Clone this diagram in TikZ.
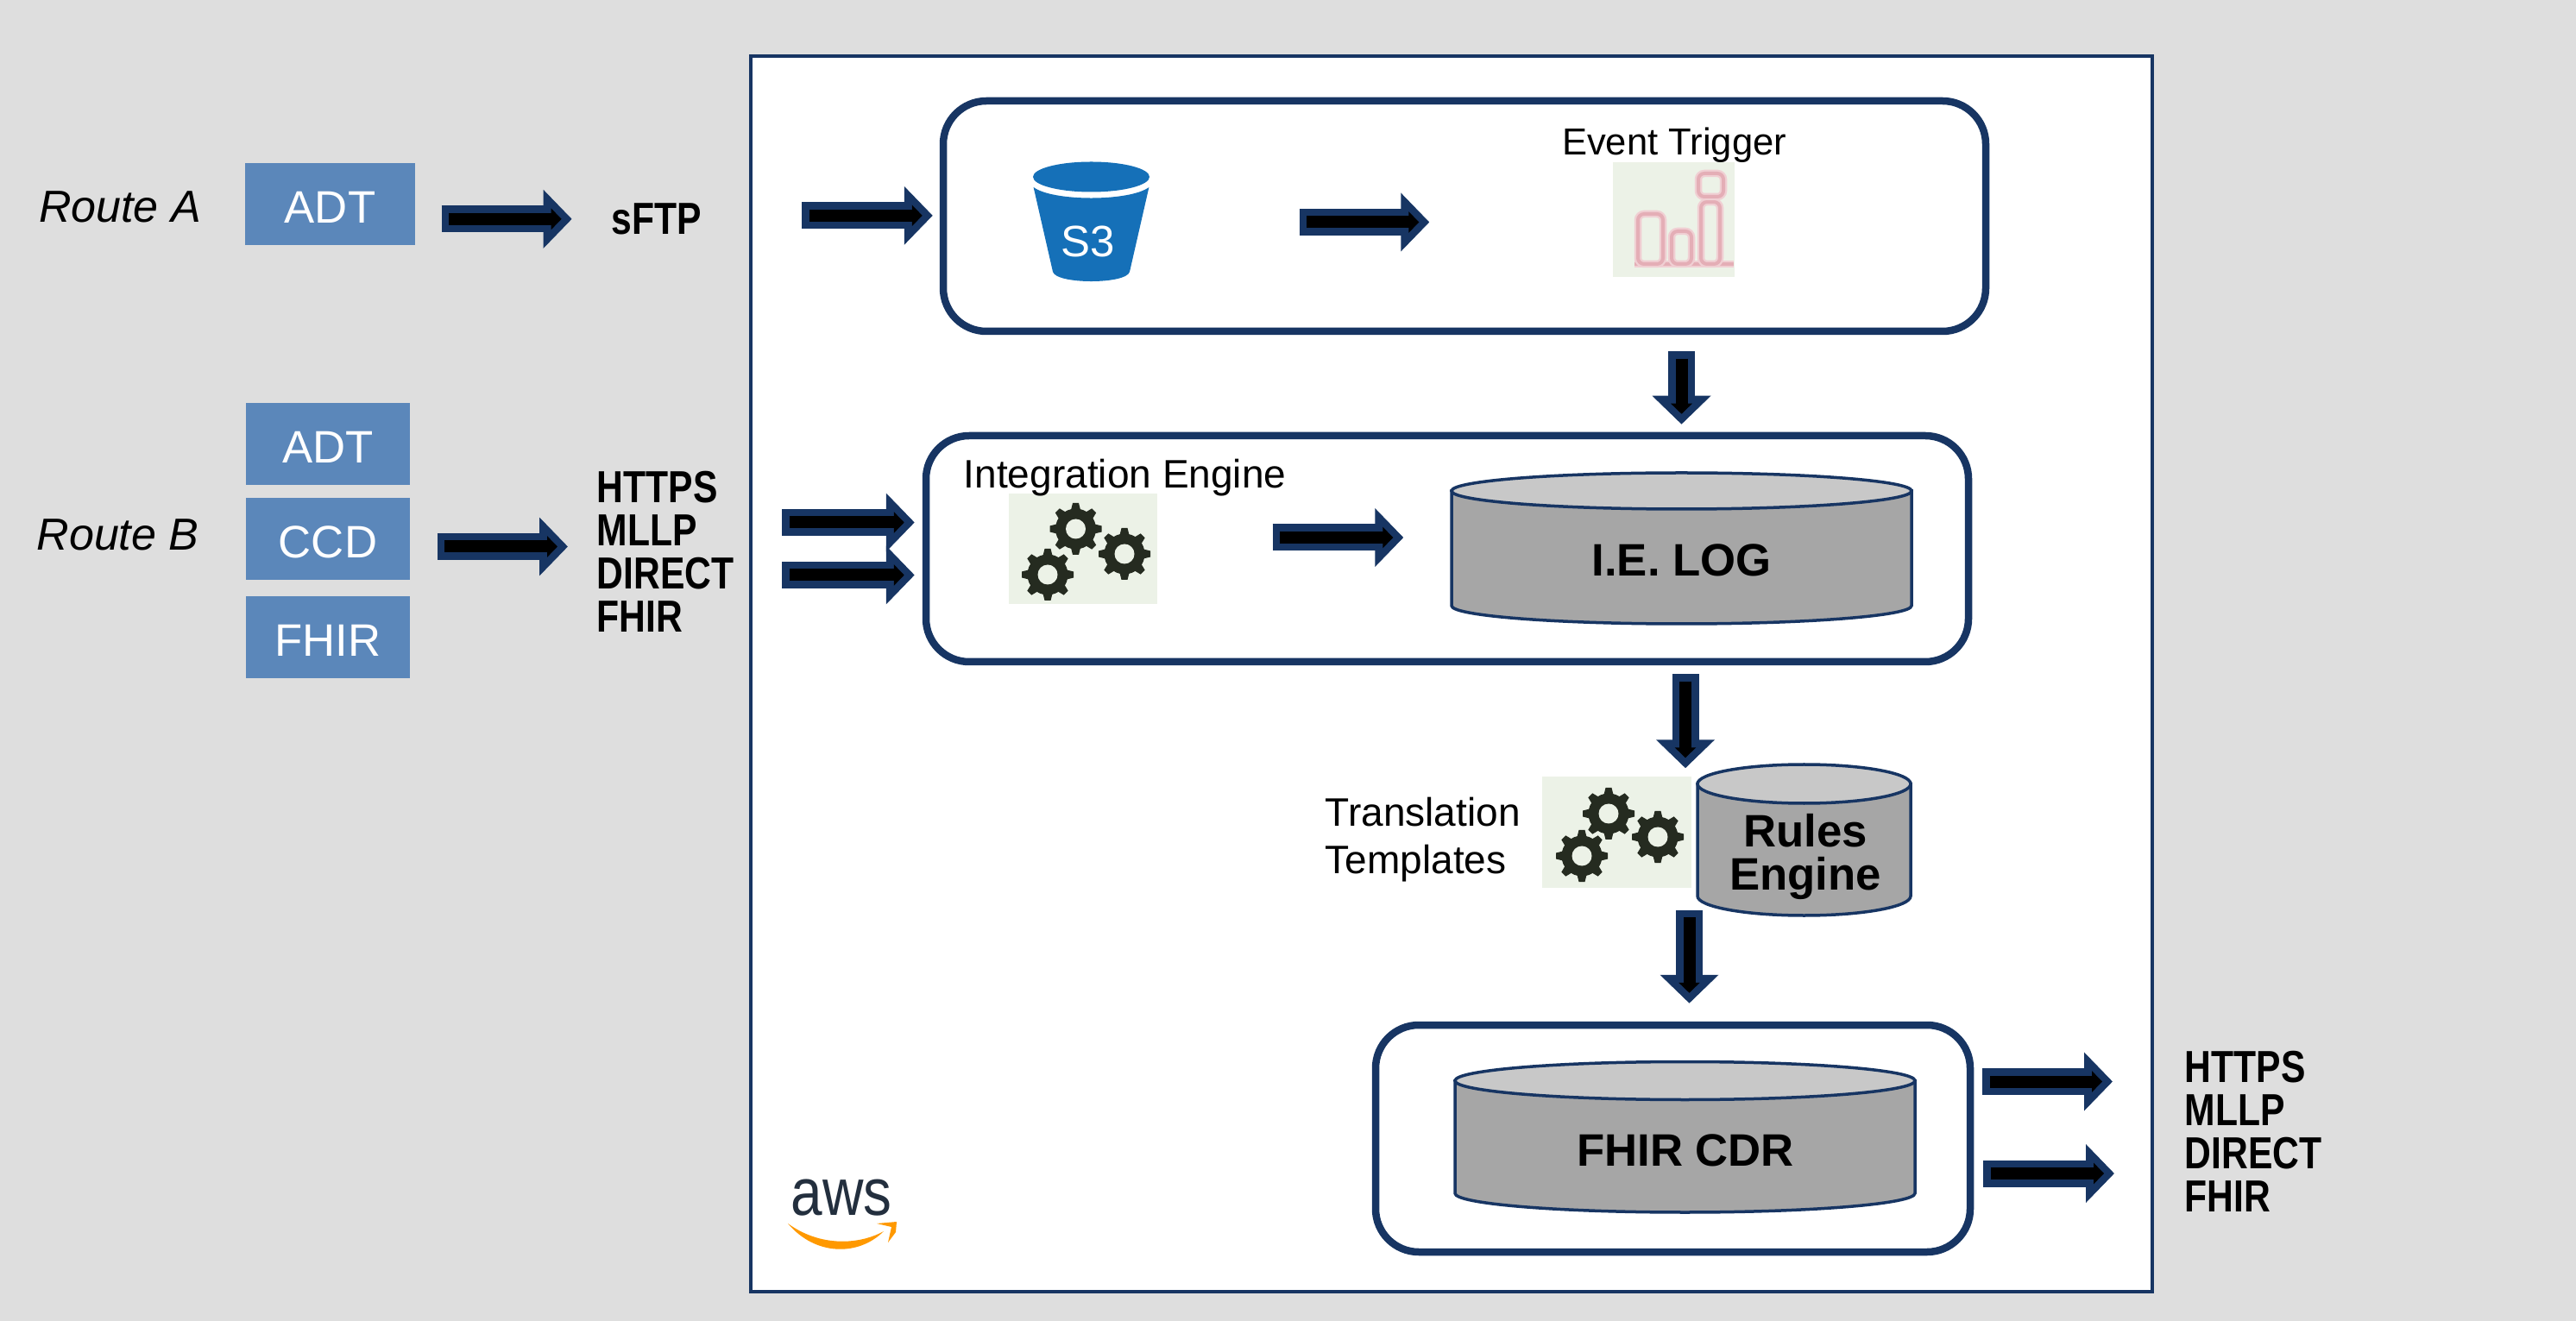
\documentclass[tikz,border=0pt]{standalone}
\usepackage{fontspec}
\usepackage{xcolor}
\usepackage{tikz}
\usetikzlibrary{calc,arrows.meta}
\setmainfont{Liberation Sans}
\newfontfamily\protofont[FakeStretch=0.82]{Liberation Sans}
\newfontfamily\awsfont[FakeStretch=0.85]{Liberation Sans}
\definecolor{bg}{HTML}{DEDEDE}
\definecolor{navy}{HTML}{173563}
\definecolor{tag}{HTML}{5B87BA}
\definecolor{iconbg}{HTML}{ECF2E7}
\definecolor{cogc}{HTML}{252B20}
\definecolor{pink}{HTML}{E4AEB6}
\definecolor{pinksoft}{HTML}{F0CFD3}
\definecolor{bucket}{HTML}{1570B8}
\definecolor{drumtop}{HTML}{C8C8C8}
\definecolor{drumbody}{HTML}{A6A6A6}
\definecolor{awsink}{HTML}{232F3E}
\definecolor{awsorange}{HTML}{FF9900}
\tikzset{
  frame/.style={draw=navy, fill=white, line width=.04cm, inner sep=0pt},
  stage/.style={draw=navy, fill=white, line width=.085cm, rounded corners=.5cm, inner sep=0pt},
  tagbox/.style={fill=tag, text=white, inner sep=0pt, text height=.44cm, text depth=0pt,
    font=\fontsize{15}{16}\selectfont},
  icon/.style={fill=iconbg, inner sep=0pt},
  drumlab/.style={inner sep=0pt, align=center, font=\bfseries\fontsize{15}{14}\selectfont},
  lab/.style={inner sep=0pt, font=\fontsize{13.1}{15.7}\selectfont},
  route/.style={inner sep=0pt, font=\itshape\fontsize{14.8}{16}\selectfont},
  proto/.style={inner sep=0pt, align=left, font=\protofont\bfseries\fontsize{14.8}{14.2}\selectfont},
  bars/.style={rounded corners=.07cm, draw=pinksoft, line width=.085cm,
    postaction={draw=pink, line width=.04cm}},
  flow/.style 2 args={draw=navy, line width=.31cm, shorten <=#1cm, shorten >=#2cm,
    -{Triangle[length=.33cm, width=.66cm]},
    postaction={draw=black, line width=.14cm, shorten <=#1cm+.085cm, shorten >=#2cm+.12cm,
      -{Triangle[length=.12cm, width=.24cm]}}},
  pics/cog/.style={code={
    \fill[cogc] (0,0) circle (.235);
    \foreach \a in {0,45,...,315}
      \fill[cogc, rotate=\a] (.2,-.06) -- (.3,-.035) -- (.3,.035) -- (.2,.06) -- cycle;
    \fill[iconbg] (0,0) circle (.115);
  }},
  pics/drum/.style n args={3}{code={
    \filldraw[draw=navy, fill=drumbody, line width=.035cm] ({-#1},0) -- ({-#1},#2)
      .. controls ({-#1},{#2+.5523*#3}) and ({-.5523*#1},{#2+#3}) .. (0,{#2+#3})
      .. controls ({.5523*#1},{#2+#3}) and ({#1},{#2+.5523*#3}) .. ({#1},#2) -- ({#1},0) -- cycle;
    \filldraw[draw=navy, fill=drumtop, line width=.035cm] (0,0) ellipse ({#1} and {#3});
  }},
}
\begin{document}
\begin{tikzpicture}[y=-1cm]
\useasboundingbox (0,0) rectangle (29.85,15.31);
\fill[bg] (0,0) rectangle (29.85,15.31);
\node[frame, minimum width=16.24cm, minimum height=14.32cm] (cloud) at (16.82,7.81) {};

\node[route, anchor=base] (routeA) at (1.39,2.58) {Route A};
\node[tagbox, minimum width=1.97cm, minimum height=.95cm] (adtA) at (3.825,2.365) {ADT};
\node[proto, anchor=base] (sftp) at (7.605,2.715) {sFTP};

\node[route, anchor=base] (routeB) at (1.365,6.375) {Route B};
\node[tagbox, minimum width=1.9cm, minimum height=.95cm] (adtB) at (3.8,5.15) {ADT};
\node[tagbox, minimum width=1.9cm, minimum height=.95cm] (ccd) at (3.8,6.245) {CCD};
\node[tagbox, minimum width=1.9cm, minimum height=.95cm] (fhir) at (3.8,7.39) {FHIR};
\node[proto, anchor=west] (protoB) at (6.91,6.39) {HTTPS\\MLLP\\DIRECT\\FHIR};

\node[stage, minimum width=12.08cm, minimum height=2.67cm] (s3box) at (16.97,2.505) {};
\fill[bucket] (12.645,2.05) ellipse (.675 and .175);
\fill[bucket] (11.976,2.17) .. controls (12.2,2.337) and (13.09,2.337) .. (13.314,2.17)
  -- (13.09,3.15) .. controls (13.05,3.297) and (12.24,3.297) .. (12.2,3.15) -- cycle;
\node[text=white, inner sep=0pt, font=\fontsize{14.5}{16}\selectfont] (s3) at (12.61,2.80) {S3};
\node[icon, minimum width=1.41cm, minimum height=1.33cm] (trig) at (19.395,2.545) {};
\node[lab, anchor=base, font=\fontsize{12.4}{15}\selectfont] (trigger) at (19.40,1.795) {Event Trigger};
\draw[bars] (18.94,3.06) -- (20.09,3.06);
\draw[bars] (18.98,3.06) rectangle (19.27,2.48);
\draw[bars] (19.37,3.06) rectangle (19.6,2.68);
\draw[bars] (19.71,3.06) rectangle (19.93,2.34);
\draw[bars] (19.68,2.28) rectangle (19.97,2.01);

\node[stage, minimum width=12.08cm, minimum height=2.62cm] (iebox) at (16.77,6.36) {};
\node[icon, minimum width=1.72cm, minimum height=1.28cm] (gearsA) at (12.55,6.36) {};
\node[lab, anchor=base west] (engine) at (11.16,5.66) {Integration Engine};
\path (12.465,6.13) pic {cog} (13.03,6.42) pic {cog} (12.14,6.66) pic {cog};
\path (19.485,5.69) pic {drum={2.665}{1.33}{.21}};
\node[drumlab, minimum width=5.33cm] (ielog) at (19.485,6.49) {I.E. LOG};

\node[lab, anchor=north west, align=left] (templates) at (15.35,9.23) {Translation\\Templates};
\node[icon, minimum width=1.73cm, minimum height=1.29cm] (gearsB) at (18.735,9.645) {};
\path (18.64,9.43) pic {cog} (19.21,9.70) pic {cog} (18.33,9.92) pic {cog};
\path (20.905,9.085) pic {drum={1.235}{1.30}{.225}};
\node[drumlab] (rules) at (20.92,9.93) {Rules\\Engine};

\node[stage, minimum width=6.89cm, minimum height=2.63cm] (cdrbox) at (19.385,13.195) {};
\path (19.525,12.525) pic {drum={2.665}{1.305}{.22}};
\node[drumlab, minimum width=5.33cm] (cdr) at (19.53,13.33) {FHIR CDR};
\node[proto, anchor=west] (protoC) at (25.31,13.11) {HTTPS\\MLLP\\DIRECT\\FHIR};

\node[anchor=base, inner sep=0pt, text=awsink, font=\awsfont\fontsize{22}{24}\selectfont] (aws) at (9.75,14.08) {aws};
\fill[awsorange] (9.13,14.18) .. controls (9.45,14.56) and (9.95,14.56) .. (10.24,14.27)
  .. controls (9.95,14.43) and (9.5,14.45) .. (9.13,14.18) -- cycle;
\fill[awsorange] (10.16,14.18) -- (10.39,14.16) -- (10.38,14.28) -- (10.29,14.40) -- (10.33,14.22) -- cycle;

\draw[flow={.30}{.45}] (adtA.east |- sftp) -- (sftp.west);
\draw[flow={1.16}{.08}] ([yshift=.04cm]sftp.east) -- ([yshift=.04cm]sftp.east -| s3box.west);
\draw[flow={.31}{.33}] ([yshift=-.09cm]ccd.east) -- ([yshift=-.09cm]ccd.east -| protoB.west);
\draw[flow={.55}{.09}] ([yshift=.305cm]iebox.west -| protoB.east) -- ([yshift=.305cm]iebox.west);
\draw[flow={.55}{.09}] ([yshift=-.305cm]iebox.west -| protoB.east) -- ([yshift=-.305cm]iebox.west);
\draw[flow={2.13}{2.12}] ([yshift=.225cm]s3.east) -- ([yshift=.225cm]s3.east -| trig.west);
\draw[flow={1.33}{.55}] ([yshift=.13cm]gearsA.east) -- ([yshift=.13cm]gearsA.east -| ielog.west);
\draw[flow={.19}{.09}] (ielog |- s3box.south) -- (ielog |- iebox.north);
\draw[flow={.10}{.09}] (cdr |- iebox.south) -- (cdr |- gearsB.north);
\draw[flow={.25}{.21}] ([xshift=.045cm]cdr |- gearsB.south) -- ([xshift=.045cm]cdr |- cdrbox.north);
\draw[flow={.10}{.83}] ([yshift=.66cm]cdrbox.east) -- ([yshift=.66cm]cdrbox.east -| protoC.west);
\draw[flow={.11}{.81}] ([yshift=-.405cm]cdrbox.east) -- ([yshift=-.405cm]cdrbox.east -| protoC.west);
\end{tikzpicture}
\end{document}
